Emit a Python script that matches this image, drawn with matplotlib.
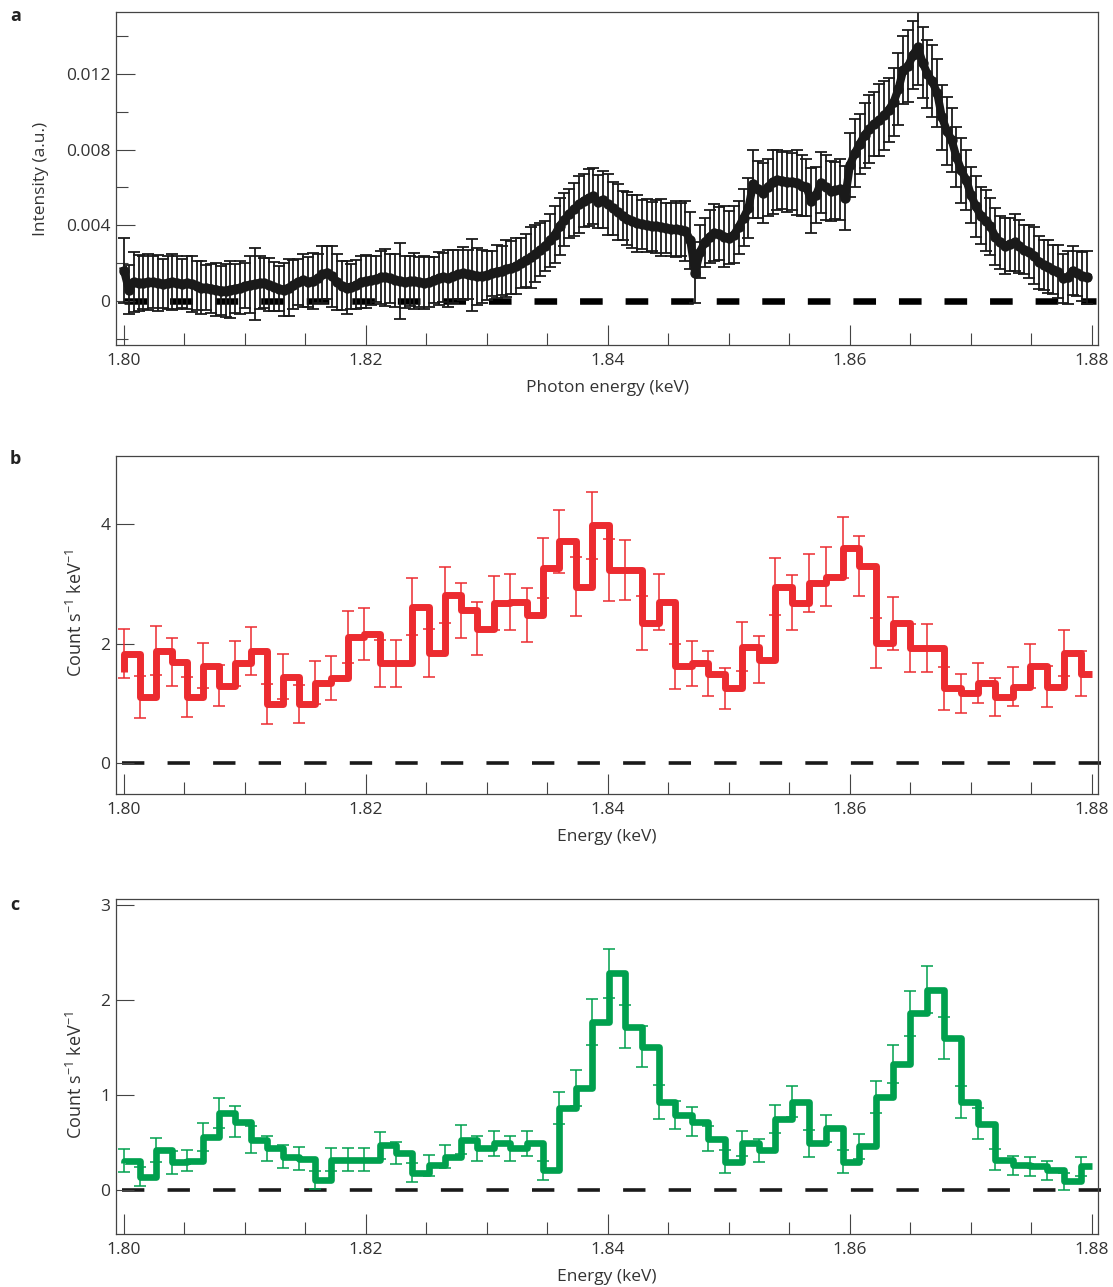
import numpy as np
import matplotlib
matplotlib.use("Agg")
import matplotlib.pyplot as plt
from matplotlib.ticker import MultipleLocator, FixedLocator, FixedFormatter

plt.rcParams['font.family'] = ['Open Sans', 'DejaVu Sans']
plt.rcParams['mathtext.fontset'] = 'custom'
plt.rcParams['mathtext.rm'] = 'Open Sans'
plt.rcParams['mathtext.it'] = 'Open Sans'
plt.rcParams['mathtext.bf'] = 'Open Sans:bold'
plt.rcParams['lines.scale_dashes'] = False

# ---------------- data ----------------
# panel a: photon energy grid (keV) and intensity (units of 1e-3 a.u.)
a_energy_start = 1.8000
a_energy_stop = 1.8796
a_intensity_milli = [
    1.6, 0.6, 1.0, 0.95, 0.95, 1.0, 1.0, 0.95, 0.9, 0.95,
    1.0, 0.95, 0.9, 0.95, 0.9, 0.8, 0.7, 0.7, 0.65, 0.6,
    0.55, 0.55, 0.6, 0.65, 0.7, 0.8, 0.85, 0.9, 0.95, 0.95,
    0.85, 0.75, 0.65, 0.6, 0.7, 0.85, 1.0, 1.1, 1.0, 1.05,
    1.2, 1.4, 1.5, 1.3, 1.0, 0.8, 0.7, 0.75, 0.85, 1.0,
    1.05, 1.1, 1.15, 1.25, 1.25, 1.2, 1.1, 1.05, 1.0, 1.05,
    1.05, 1.0, 0.95, 1.0, 1.1, 1.2, 1.25, 1.2, 1.3, 1.4,
    1.45, 1.4, 1.35, 1.3, 1.3, 1.35, 1.45, 1.55, 1.6, 1.7,
    1.75, 1.85, 2.0, 2.15, 2.3, 2.5, 2.7, 2.9, 3.2, 3.5,
    3.95, 4.3, 4.6, 4.85, 5.1, 5.3, 5.45, 5.55, 5.25, 5.35,
    5.1, 4.9, 4.7, 4.5, 4.35, 4.2, 4.1, 4.05, 4.0, 3.95,
    3.95, 3.9, 3.85, 3.8, 3.8, 3.75, 3.7, 3.2, 1.5, 2.6,
    3.1, 3.4, 3.6, 3.55, 3.4, 3.35, 3.5, 3.9, 4.4, 4.9,
    6.2, 5.9, 5.7, 6.0, 6.3, 6.4, 6.35, 6.3, 6.3, 6.25,
    6.1, 6.0, 5.3, 5.6, 6.25, 6.0, 5.8, 5.85, 5.9, 5.45,
    7.2, 7.8, 8.3, 8.75, 9.1, 9.35, 9.55, 9.8, 10.1, 10.5,
    11.2, 12.2, 12.4, 13.0, 13.4, 12.6, 12.0, 11.6, 11.0, 9.7,
    9.0, 8.5, 7.6, 6.9, 6.4, 5.6, 5.0, 4.5, 4.25, 3.95,
    3.4, 3.1, 2.9, 3.0, 3.1, 2.9, 2.7, 2.6, 2.4, 2.05,
    1.9, 1.8, 1.65, 1.55, 1.2, 1.25, 1.6, 1.45, 1.3, 1.25,
]
a_error_milli = [
    1.7, 1.3, 1.6, 1.5, 1.4, 1.5, 1.4, 1.5, 1.3, 1.4,
    1.5, 1.4, 1.3, 1.4, 1.5, 1.3, 1.4, 1.2, 1.3, 1.4,
    1.3, 1.4, 1.5, 1.3, 1.4, 1.2, 1.5, 1.9, 1.4, 1.3,
    1.4, 1.3, 1.2, 1.4, 1.5, 1.3, 1.2, 1.4, 1.3, 1.5,
    1.3, 1.5, 1.4, 1.6, 1.5, 1.3, 1.4, 1.2, 1.3, 1.4,
    1.4, 1.3, 1.2, 1.4, 1.5, 1.3, 1.4, 2.0, 1.4, 1.3,
    1.5, 1.3, 1.4, 1.3, 1.2, 1.4, 1.3, 1.5, 1.4, 1.3,
    1.4, 1.3, 1.9, 1.5, 1.4, 1.3, 1.2, 1.4, 1.3, 1.5,
    1.4, 1.5, 1.3, 1.4, 1.6, 1.5, 1.4, 1.3, 1.4, 1.5,
    1.5, 1.4, 1.3, 1.4, 1.5, 1.4, 1.5, 1.5, 1.4, 1.5,
    1.6, 1.4, 1.5, 1.3, 1.4, 1.4, 1.5, 1.3, 1.4, 1.3,
    1.4, 1.5, 1.3, 1.4, 1.5, 1.4, 1.6, 1.5, 1.6, 1.4,
    1.3, 1.4, 1.5, 1.4, 1.6, 1.4, 1.5, 1.4, 1.5, 1.6,
    1.8, 1.5, 1.6, 1.5, 1.7, 1.6, 1.5, 1.6, 1.5, 1.7,
    1.6, 1.5, 1.7, 1.5, 1.6, 1.7, 1.6, 1.5, 1.6, 1.7,
    1.7, 1.8, 1.6, 1.7, 1.8, 1.7, 1.9, 1.8, 1.7, 1.8,
    1.9, 1.8, 1.9, 1.8, 2.0, 1.9, 1.8, 1.9, 1.8, 1.7,
    1.8, 1.7, 1.6, 1.7, 1.6, 1.5, 1.6, 1.5, 1.6, 1.5,
    1.5, 1.4, 1.5, 1.4, 1.5, 1.4, 1.3, 1.4, 1.5, 1.4,
    1.3, 1.4, 1.3, 1.4, 1.3, 1.4, 1.3, 1.2, 1.3, 1.4,
]

# panels b, c: spectra binned on a uniform wavelength grid (0.005 Angstrom)
hc_keV_A = 12.39842
bin_width_A = 0.005
bin_start_keV = 1.80
n_bins = 59          # last bin is cut at 1.88 keV

b_before = 1.53      # value of the clipped bin just below 1.80 keV
b_counts = [
    1.83, 1.11, 1.88, 1.69, 1.11, 1.63, 1.30, 1.67, 1.87, 0.99,
    1.45, 0.99, 1.35, 1.42, 2.11, 2.16, 1.67, 1.67, 2.62, 1.84,
    2.81, 2.56, 2.25, 2.68, 2.69, 2.48, 3.26, 3.71, 2.95, 3.98,
    3.23, 3.23, 2.34, 2.70, 1.62, 1.67, 1.50, 1.25, 1.95, 1.73,
    2.95, 2.68, 3.01, 3.12, 3.60, 3.29, 2.01, 2.34, 1.92, 1.92,
    1.25, 1.17, 1.34, 1.11, 1.28, 1.62, 1.28, 1.84, 1.50,
]
b_errors = [
    0.41, 0.35, 0.41, 0.40, 0.34, 0.38, 0.34, 0.37, 0.40, 0.33,
    0.37, 0.32, 0.36, 0.37, 0.43, 0.43, 0.39, 0.39, 0.47, 0.40,
    0.47, 0.46, 0.44, 0.45, 0.47, 0.45, 0.50, 0.53, 0.49, 0.56,
    0.51, 0.50, 0.45, 0.47, 0.38, 0.38, 0.37, 0.34, 0.41, 0.39,
    0.48, 0.46, 0.49, 0.49, 0.51, 0.50, 0.41, 0.44, 0.40, 0.40,
    0.36, 0.33, 0.34, 0.32, 0.33, 0.37, 0.34, 0.38, 0.37,
]

c_before = 0.28
c_counts = [
    0.31, 0.14, 0.42, 0.29, 0.31, 0.56, 0.81, 0.72, 0.53, 0.44,
    0.35, 0.33, 0.105, 0.32, 0.32, 0.32, 0.47, 0.39, 0.18, 0.26,
    0.35, 0.53, 0.44, 0.49, 0.44, 0.49, 0.21, 0.86, 1.07, 1.77,
    2.28, 1.72, 1.51, 0.93, 0.79, 0.72, 0.54, 0.30, 0.49, 0.42,
    0.75, 0.93, 0.49, 0.65, 0.30, 0.46, 0.98, 1.33, 1.86, 2.11,
    1.60, 0.93, 0.70, 0.32, 0.26, 0.25, 0.21, 0.09, 0.25,
]
c_errors = [
    0.12, 0.10, 0.13, 0.12, 0.11, 0.15, 0.16, 0.16, 0.14, 0.13,
    0.12, 0.12, 0.09, 0.12, 0.12, 0.12, 0.14, 0.12, 0.10, 0.11,
    0.12, 0.15, 0.13, 0.13, 0.13, 0.13, 0.10, 0.17, 0.19, 0.24,
    0.26, 0.23, 0.22, 0.18, 0.15, 0.15, 0.13, 0.12, 0.13, 0.12,
    0.15, 0.16, 0.14, 0.14, 0.12, 0.13, 0.17, 0.20, 0.24, 0.25,
    0.22, 0.17, 0.16, 0.11, 0.10, 0.10, 0.10, 0.09, 0.10,
]

x_ticks = [1.80, 1.82, 1.84, 1.86, 1.88]
x_tick_labels = ["1.80", "1.82", "1.84", "1.86", "1.88"]
a_yticks = [0, 0.004, 0.008, 0.012]
a_ytick_labels = ["0", "0.004", "0.008", "0.012"]
b_yticks = [0, 2, 4]
c_yticks = [0, 1, 2, 3]

RED = '#EC2B30'
GREEN = '#00A04E'
TXT = '#333333'

# ---------------- figure ----------------
W, H = 1113, 1287
fig = plt.figure(figsize=(W / 100, H / 100), dpi=100)

def px_axes(l, t, r, b):
    return fig.add_axes([l / W, 1 - b / H, (r - l) / W, (b - t) / H])

ax_a = px_axes(116, 12, 1098, 345)
ax_b = px_axes(116, 455.7, 1098, 794)
ax_c = px_axes(116, 899.3, 1098, 1234)

XMIN, XMAX = 1.799339, 1.880496

def style(ax, ymajor, ylabels, yminor=None, ylen=14):
    ax.set_xlim(XMIN, XMAX)
    ax.xaxis.set_major_locator(FixedLocator(x_ticks))
    ax.xaxis.set_major_formatter(FixedFormatter(x_tick_labels))
    ax.xaxis.set_minor_locator(MultipleLocator(0.005))
    ax.yaxis.set_major_locator(FixedLocator(ymajor))
    ax.yaxis.set_major_formatter(FixedFormatter(ylabels))
    if yminor is not None:
        ax.yaxis.set_minor_locator(FixedLocator(yminor))
    else:
        ax.yaxis.set_minor_locator(FixedLocator([]))
    ax.tick_params(axis='x', which='major', direction='in', length=14.4,
                   width=0.8, color='#444444', labelsize=12.5,
                   labelcolor=TXT, pad=6)
    ax.tick_params(axis='x', which='minor', direction='in', length=8.6,
                   width=0.8, color='#444444')
    ax.tick_params(axis='y', which='major', direction='in', length=ylen,
                   width=0.8, color='#444444', labelsize=12.5,
                   labelcolor=TXT, pad=4)
    ax.tick_params(axis='y', which='minor', direction='in', length=8.6,
                   width=0.8, color='#444444')
    for s in ax.spines.values():
        s.set_color('#444444')
        s.set_linewidth(0.9)

# ---- panel a ----
a_energy = np.linspace(a_energy_start, a_energy_stop, len(a_intensity_milli))
a_int = np.array(a_intensity_milli) * 1e-3
a_err = np.array(a_error_milli) * 1e-3
ax_a.plot([1.80, 1.8803], [0, 0], color='black', lw=4.7,
          linestyle=(0, (16.3, 16.5)), zorder=1)
ax_a.errorbar(a_energy, a_int, yerr=a_err, fmt='none', ecolor='#1a1a1a',
              elinewidth=1.3, capsize=4.3, capthick=1.3, zorder=2)
ax_a.plot(a_energy, a_int, '-o', color='#1a1a1a', lw=5.8, ms=7.5,
          markeredgewidth=0, zorder=3)
ax_a.set_ylim(-0.00233, 0.01527)
style(ax_a, a_yticks, a_ytick_labels,
      yminor=[-0.002, 0.002, 0.006, 0.010, 0.014])
ax_a.set_xlabel('Photon energy (keV)', fontsize=12.5, color=TXT, labelpad=8)
ax_a.set_ylabel('Intensity (a.u.)', fontsize=12.5, color=TXT)
ax_a.yaxis.set_label_coords(-0.068, 0.5)

# ---- panels b, c ----
lam0 = hc_keV_A / bin_start_keV
lam_edges = lam0 - bin_width_A * np.arange(n_bins)
bin_lo = hc_keV_A / lam_edges            # low-energy edge of each bin
edges = np.concatenate([[1.80], bin_lo, [1.88]])


def step_panel(ax, before, counts, errors, color, lw):
    vals = np.concatenate([[before], counts])
    xs = np.repeat(edges, 2)[1:-1]
    ys = np.repeat(vals, 2)
    ax.plot([1.7998, 1.8808], [0, 0], color='#1a1a1a', lw=2.6,
            linestyle=(0, (16.1, 16.7)), zorder=1, clip_on=False)
    ax.errorbar(bin_lo, counts, yerr=errors, fmt='none', ecolor=color,
                elinewidth=1.1, capsize=4.5, capthick=1.1, zorder=2)
    ax.plot(xs, ys, color=color, lw=lw, solid_joinstyle='round',
            solid_capstyle='butt', zorder=3)


step_panel(ax_b, b_before, b_counts, b_errors, RED, 5.0)
ax_b.set_ylim(-0.513, 5.14)
style(ax_b, b_yticks, [str(v) for v in b_yticks], ylen=13)
ax_b.set_xlabel('Energy (keV)', fontsize=12.5, color=TXT, labelpad=8)
ax_b.set_ylabel('Count s$^{-1}$ keV$^{-1}$', fontsize=13, color=TXT)
ax_b.yaxis.set_label_coords(-0.031, 0.535)

step_panel(ax_c, c_before, c_counts, c_errors, GREEN, 4.8)
ax_c.set_ylim(-0.463, 3.06)
style(ax_c, c_yticks, [str(v) for v in c_yticks], ylen=13)
ax_c.set_xlabel('Energy (keV)', fontsize=12.5, color=TXT, labelpad=8)
ax_c.set_ylabel('Count s$^{-1}$ keV$^{-1}$', fontsize=13, color=TXT)
ax_c.yaxis.set_label_coords(-0.031, 0.475)

# panel letters
for letter, ypx in (('a', 16), ('b', 459), ('c', 905)):
    fig.text(10 / W, 1 - ypx / H, letter, fontsize=13, fontweight='bold',
             color='#222222', ha='left', va='center')

fig.savefig('out.png', dpi=100)
